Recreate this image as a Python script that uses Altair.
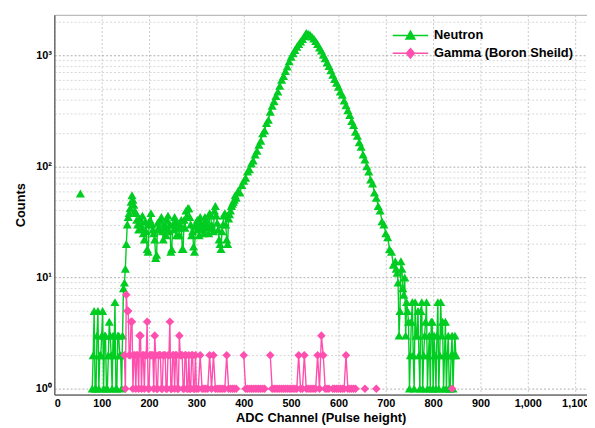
import altair as alt
import pandas as pd

GREEN = "#00CC22"
PINK = "#FF4FAE"
NEUTRON = "Neutron"
GAMMA = "Gamma (Boron Sheild)"

# ---------------- Neutron spectrum ----------------
neutron_isolated_channel = [55]
neutron_isolated_counts = [57]
neutron_gap_channel = [62]          # no counts between the isolated point and channel 80

# channels 80, 84, ... 848
neutron_first_channel = 80
neutron_last_channel = 848
channel_step = 4
neutron_counts = [
    # 80 - 148
    1, 5, 1, 5, 2, 3, 1, 3, 1, 4, 2, 3, 6, 1, 3, 2, 3, 9,
    # 152 - 164
    20, 35, 42, 55,
    # 168 - 380 (plateau)
    45, 38, 30, 34, 28, 25, 32, 18, 30, 38, 27, 22, 16, 28, 33, 26, 30, 24,
    36, 30, 18, 27, 32, 29, 24, 33, 18, 28, 36, 42, 30, 26, 17, 31, 27, 35,
    29, 25, 33, 28, 38, 30, 26, 44, 31, 22, 18, 30, 38, 22, 34, 40, 46, 50,
    # 384 - 720 (peak)
    52, 60, 58, 68, 74, 79, 90, 94, 106, 113, 128, 138, 156, 170, 198, 210,
    245, 262, 310, 350, 385, 430, 470, 530, 600, 650, 720, 790, 880, 970,
    1040, 1110, 1190, 1260, 1330, 1400, 1480, 1590, 1560, 1530, 1470, 1410,
    1340, 1260, 1170, 1100, 1010, 940, 860, 800, 730, 665, 610, 565, 520,
    470, 440, 390, 355, 320, 290, 255, 235, 205, 188, 165, 150, 128, 115,
    100, 90, 76, 70, 58, 52, 44, 40, 32, 30, 25, 23, 18, 17, 13, 14,
    # 724 - 848 (tail)
    11, 3, 14, 8, 10, 6, 4, 2, 6, 1, 3, 5, 1, 6, 2, 4, 1, 3, 4, 1, 2, 3,
    1, 6, 4, 2, 1, 3, 1, 3, 2, 2,
]
# in-between channels of the noisy parts
neutron_low_odd_first = 82      # 82 ... 146
neutron_low_odd_counts = [2, 1, 3, 1, 2, 5, 3, 1, 2, 3, 1, 2, 1, 3, 2, 1, 8]
neutron_plateau_odd_first = 150  # 150 ... 382
neutron_plateau_odd_counts = [
    12, 30, 38, 48, 50, 40, 33, 27, 30, 36, 22, 26, 17, 33, 30, 25, 15, 31, 27, 35,
    22, 28, 33, 26, 17, 30, 35, 24, 28, 30, 18, 33, 40, 42, 35, 24, 19, 29, 33, 24,
    31, 27, 35, 30, 25, 36, 28, 40, 36, 27, 20, 26, 36, 30, 20, 37, 44, 48, 55,
]
neutron_tail_odd_first = 722     # 722 ... 846
neutron_tail_odd_counts = [
    12, 9, 5, 12, 7, 3, 5, 1, 4, 2, 6, 3, 2, 5, 1, 3, 6, 2, 1, 4,
    3, 1, 6, 2, 3, 1, 4, 2, 1, 2, 1, 3,
]

# ---------------- Gamma spectrum ----------------
gamma_first_channel = 148        # 148 ... 636
gamma_last_channel = 636
gamma_counts = [
    # 148 - 300
    2, 7, 5, 2, 4, 2, 1, 2, 3, 1, 2, 2, 4, 1, 2, 2, 3, 1, 2, 2,
    1, 2, 1, 2, 4, 1, 2, 2, 1, 3, 2, 1, 2, 1, 2, 1, 2, 1, 1,
    # 304 - 636
    1, 2, 1, 1, 1, 1, 2, 1, 2, 1,
    1, 1, 1, 1, 1, 2, 1, 1, 1, 1,
    1, None, None, None, 2, 1, 1, 1, 1, 1,
    1, 1, 1, 1, 1, 1, None, None, 2, 1,
    1, 1, 1, 1, 1, 1, 1, 1, 1, 1,
    1, 1, 1, 2, 1, 1, 2, 1, 1, 1,
    1, 1, 1, 2, 1, 3, 2, 1, 1, 1,
    None, 1, 1, 1, 1, 1, 1, 1, 2, 1,
    1, 1, 1, 1,
]
gamma_odd_first = 150            # 150 ... 298
gamma_odd_counts = [
    1, 5, 2, 4, 1, 2, 2, 1, 3, 2, 1, 2, 1, 2, 2, 1, 2, 1, 2, 1,
    2, 2, 1, 2, 1, 2, 1, 2, 1, 2, 2, 1, 2, 1, 1, 2, 1, 2,
]
gamma_isolated_channel = [656, 680, 840]
gamma_isolated_counts = [1, 1, 1]
gamma_gap_channel = [640, 660, 684]

# ---------------- axes ----------------
x_tick_values = [0, 100, 200, 300, 400, 500, 600, 700, 800, 900, 1000, 1100]
y_grid_values = [1, 2, 3, 4, 5, 6, 7, 8, 9,
                 10, 20, 30, 40, 50, 60, 70, 80, 90,
                 100, 200, 300, 400, 500, 600, 700, 800, 900,
                 1000, 2000]

# ---------------- build table ----------------
def channels_for(first, counts):
    return [first + channel_step * i for i in range(len(counts))]

neutron_channels = list(range(neutron_first_channel, neutron_last_channel + 1, channel_step))
gamma_channels = list(range(gamma_first_channel, gamma_last_channel + 1, channel_step))
assert len(neutron_channels) == len(neutron_counts), (len(neutron_channels), len(neutron_counts))
assert len(gamma_channels) == len(gamma_counts), (len(gamma_channels), len(gamma_counts))

rows = []
def add(series, chans, vals):
    for c, v in zip(chans, vals):
        rows.append({"channel": c, "counts": v, "series": series})

add(NEUTRON, neutron_isolated_channel, neutron_isolated_counts)
add(NEUTRON, neutron_gap_channel, [None] * len(neutron_gap_channel))
add(NEUTRON, neutron_channels, neutron_counts)
add(NEUTRON, channels_for(neutron_low_odd_first, neutron_low_odd_counts), neutron_low_odd_counts)
add(NEUTRON, channels_for(neutron_plateau_odd_first, neutron_plateau_odd_counts), neutron_plateau_odd_counts)
add(NEUTRON, channels_for(neutron_tail_odd_first, neutron_tail_odd_counts), neutron_tail_odd_counts)
add(GAMMA, gamma_channels, gamma_counts)
add(GAMMA, channels_for(gamma_odd_first, gamma_odd_counts), gamma_odd_counts)
add(GAMMA, gamma_gap_channel, [None] * len(gamma_gap_channel))
add(GAMMA, gamma_isolated_channel, gamma_isolated_counts)
df = pd.DataFrame(rows).sort_values(["series", "channel"]).reset_index(drop=True)

legend_df = pd.DataFrame({"series": [NEUTRON, GAMMA], "channel": [-300, -300], "counts": [100, 100]})

FONT = "Liberation Sans"
is_pow = "abs(log(datum.value)/LN10 - round(log(datum.value)/LN10)) < 0.001"

x_enc = alt.X(
    "channel:Q",
    scale=alt.Scale(domain=[0, 1125], nice=False, zero=False),
    axis=alt.Axis(
        values=x_tick_values, format=",d", title="ADC Channel (Pulse height)",
        grid=True, gridColor="#BBBBBB", gridDash=[2, 2], gridWidth=0.8,
        ticks=False, labelPadding=3, titlePadding=3,
        domainColor="#444444",
    ),
)
y_enc = alt.Y(
    "counts:Q",
    scale=alt.Scale(type="log", domain=[0.885, 2310], nice=False),
    axis=alt.Axis(
        values=y_grid_values, title="Counts",
        labelExpr=f"({is_pow}) ? '10' + ['⁰','¹','²','³','⁴'][round(log(datum.value)/LN10)] : ''",
        grid=True,
        gridColor={"condition": {"test": is_pow, "value": "#999999"}, "value": "#CCCCCC"},
        gridDash=[2, 2], gridWidth=0.8,
        ticks=False, labelPadding=3, titlePadding=8,
        domainColor="#444444",
    ),
)

def series_line(name, color):
    return alt.Chart(df).transform_filter(alt.datum.series == name).mark_line(
        color=color, strokeWidth=1.4, invalid="break-paths-show-domains"
    ).encode(x=x_enc, y=y_enc)

def series_points(name, color, shape, size):
    return alt.Chart(df).transform_filter(alt.datum.series == name).mark_point(
        color=color, filled=True, shape=shape, size=size, opacity=1
    ).encode(x=x_enc, y=y_enc)

# legend symbols: a line segment with the marker in its middle
tri_path = "M-2.25,0L2.25,0M0,-0.55L0.56,0.45L-0.56,0.45Z"
dia_path = "M-2.25,0L2.25,0M0,-0.6L0.5,0L0,0.6L-0.5,0Z"

legend = alt.Legend(
    title=None, orient="none", legendX=352, legendY=12,
    labelFont=FONT, labelFontSize=13, labelFontWeight="bold", labelColor="black",
    symbolSize=256, symbolStrokeWidth=1.5, symbolOpacity=1,
    rowPadding=2, labelOffset=15, padding=0,
)
names = [NEUTRON, GAMMA]
legend_layer = alt.Chart(legend_df).mark_point(filled=True, size=256, clip=True, strokeWidth=1.5).encode(
    x=x_enc, y=y_enc,
    color=alt.Color("series:N", scale=alt.Scale(domain=names, range=[GREEN, PINK]), legend=legend),
    stroke=alt.Stroke("series:N", scale=alt.Scale(domain=names, range=[GREEN, PINK]), legend=legend),
    shape=alt.Shape("series:N", scale=alt.Scale(domain=names, range=[tri_path, dia_path]), legend=legend),
)

chart = alt.layer(
    series_line(NEUTRON, GREEN),
    series_points(NEUTRON, GREEN, "triangle-up", 85),
    series_line(GAMMA, PINK),
    series_points(GAMMA, PINK, "diamond", 75),
    legend_layer,
).properties(
    width=540, height=385,
    autosize=alt.AutoSizeParams(type="none"),
    padding={"left": 47, "top": 4, "right": 0, "bottom": 31},
).configure_view(
    stroke="#AAAAAA",
).configure_axis(
    labelFont=FONT, labelFontSize=11, labelFontWeight="bold", labelColor="black",
    titleFont=FONT, titleFontSize=13, titleFontWeight="bold", titleColor="black",
)

chart.save("out.html", embed_options={"renderer": "svg", "actions": False})
